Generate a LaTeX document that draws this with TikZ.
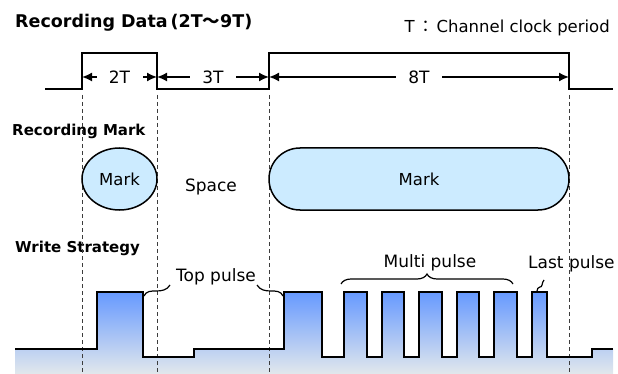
\documentclass[tikz,border=0pt]{standalone}
\usepackage{fontspec}
\setmainfont{DejaVu Sans}
\newfontfamily\cjk{Noto Sans CJK JP}
\usetikzlibrary{arrows.meta,shapes.geometric,decorations.pathreplacing}
\definecolor{markfill}{RGB}{204,235,255}
\definecolor{pulsetop}{RGB}{102,153,255}
\definecolor{pulsebot}{RGB}{226,232,236}
\definecolor{dashgray}{RGB}{60,60,60}
\tikzset{
  heading/.style={anchor=base west, inner sep=0pt, font=\fontsize{15}{18}\selectfont\bfseries},
  lbl/.style={inner sep=0pt, font=\fontsize{17}{20}\selectfont},
  dimlbl/.style={fill=white, inner sep=0pt, minimum width=46pt, minimum height=14pt, font=\fontsize{17}{20}\selectfont},
  dimarrow/.style={line width=1.6pt, {Latex[length=10pt,width=9pt]}-{Latex[length=10pt,width=9pt]}},
  wave/.style={line width=1.8pt, line join=miter},
  dashline/.style={dashgray, line width=1pt, dash pattern=on 4pt off 3pt},
  markshape/.style={draw, line width=1.5pt, fill=markfill, font=\fontsize{16.5}{19}\selectfont},
  curl/.style={line width=1.2pt},
}
\begin{document}
\begin{tikzpicture}[x=1pt,y=-1pt]
\useasboundingbox (0,0) rectangle (618,374);
% headings
\node[heading, font=\fontsize{17.5}{20}\selectfont\bfseries] (h1) at (15,28) {Recording Data\,(2T{\cjk ～}9T)};
\node[lbl, anchor=base east, font=\fontsize{16.5}{19}\selectfont] (tdef) at (610,33) {T\,{\cjk ：}\,Channel clock period};
\node[heading] (h2) at (12,136) {Recording Mark};
\node[heading] (h3) at (15,252) {Write Strategy};

% write strategy fill
\shade[top color=pulsetop, bottom color=pulsebot]
 (15,349) -- (97,349) -- (97,292) -- (143,292) -- (143,357) -- (194,357) -- (194,349) -- (284,349) -- (284,292) -- (322,292) -- (322,357)
 -- (344,357) -- (344,292) -- (367,292) -- (367,357)
 -- (382,357) -- (382,292) -- (404,292) -- (404,357)
 -- (419,357) -- (419,292) -- (442,292) -- (442,357)
 -- (457,357) -- (457,292) -- (479,292) -- (479,357)
 -- (494,357) -- (494,292) -- (517,292) -- (517,357)
 -- (532,357) -- (532,292) -- (547,292) -- (547,357)
 -- (592,357) -- (592,349) -- (613,349) -- (613,374) -- (15,374) -- cycle;

% dashed guide lines
\foreach \xx/\nm in {82/a,157/b,269/c,569/d}{
  \coordinate (\nm t) at (\xx,95);
  \coordinate (\nm b) at (\xx,374);
  \draw[dashline] (\nm t) -- (\nm b);
}

% recording data waveform
\draw[wave] (45,89) -- (82,89) -- (82,53) -- (157,53) -- (157,89) -- (269,89) -- (269,53) -- (569,53) -- (569,89) -- (613,89);
\coordinate (p1) at (82,77);
\coordinate (p2) at (157,77);
\coordinate (p3) at (269,77);
\coordinate (p4) at (569,77);
\draw[dimarrow] (p1) -- (p2) node[midway, dimlbl] (l2t) {2T};
\draw[dimarrow] (p2) -- (p3) node[midway, dimlbl] (l3t) {3T};
\draw[dimarrow] (p3) -- (p4) node[midway, dimlbl] (l8t) {8T};

% recording marks
\node[markshape, ellipse, minimum width=75pt, minimum height=62pt, inner sep=0pt] (m1) at (119.5,179) {Mark};
\node[lbl, anchor=base] (space) at (211,192) {Space};
\node[markshape, rounded corners=31pt, minimum width=300pt, minimum height=62pt, inner sep=0pt] (m2) at (419,179) {Mark};

% write strategy outline
\draw[wave]
 (15,349) -- (97,349) -- (97,292) -- (143,292) -- (143,357) -- (194,357) -- (194,349) -- (284,349) -- (284,292) -- (322,292) -- (322,357)
 -- (344,357) -- (344,292) -- (367,292) -- (367,357)
 -- (382,357) -- (382,292) -- (404,292) -- (404,357)
 -- (419,357) -- (419,292) -- (442,292) -- (442,357)
 -- (457,357) -- (457,292) -- (479,292) -- (479,357)
 -- (494,357) -- (494,292) -- (517,292) -- (517,357)
 -- (532,357) -- (532,292) -- (547,292) -- (547,357)
 -- (592,357) -- (592,349) -- (613,349);

% labels
\node[lbl, anchor=base] (top) at (216,281) {Top pulse};
\node[lbl, anchor=base] (multi) at (430,267) {Multi pulse};
\node[lbl, anchor=base west] (last) at (528,268) {Last pulse};

% curls
\coordinate (c1a) at (144,296);
\coordinate (c1b) at (170,285);
\draw[curl] (c1a) .. controls (146,291) and (151,291) .. (156,291) .. controls (162,291) and (167,290) .. (c1b);
\coordinate (c2a) at (283,296);
\coordinate (c2b) at (257,285);
\draw[curl] (c2a) .. controls (281,291) and (276,291) .. (271,291) .. controls (265,291) and (260,290) .. (c2b);
\coordinate (c3a) at (537,291);
\coordinate (c3b) at (544,280);
\draw[curl] (c3a) .. controls (537,286) and (542,288) .. (542,285) .. controls (542,283) and (543,282) .. (c3b);
\coordinate (bl) at (341,284);
\coordinate (br) at (513,284);
\draw[curl, decorate, decoration={brace, amplitude=10pt, aspect=0.5}] (bl) -- (br);
\end{tikzpicture}
\end{document}
